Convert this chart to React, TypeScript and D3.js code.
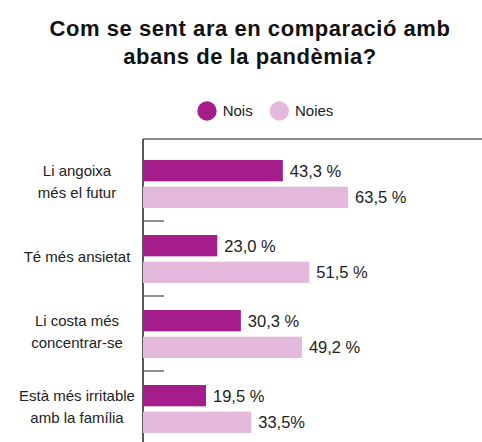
import React from "react";
import * as d3 from "d3";

const title = ["Com se sent ara en comparació amb", "abans de la pandèmia?"];
const categories = [
  ["Li angoixa", "més el futur"],
  ["Té més ansietat"],
  ["Li costa més", "concentrar-se"],
  ["Està més irritable", "amb la família"],
];
const series = ["Nois", "Noies"];
const noisValues = [43.3, 23.0, 30.3, 19.5];
const noiesValues = [63.5, 51.5, 49.2, 33.5];
const noisLabels = ["43,3 %", "23,0 %", "30,3 %", "19,5 %"];
const noiesLabels = ["63,5 %", "51,5 %", "49,2 %", "33,5%"];

const W = 482;
const H = 442;
const FONT = "'Liberation Sans', Arial, Helvetica, sans-serif";
const colors = ["#A51D8A", "#E4B9DB"];

export default function App() {
  const x0 = 143;
  const x = d3.scaleLinear().domain([0, 100]).range([x0, x0 + 323]);
  const keys = categories.map((_, i) => String(i));
  const y = d3.scaleBand().domain(keys).range([146, 446]);
  const yInner = d3.scaleBand().domain(series).range([14, 62]).paddingInner(0.2);
  const values = [noisValues, noiesValues];
  const labels = [noisLabels, noiesLabels];
  const color = d3.scaleOrdinal<string, string>().domain(series).range(colors);

  const legendX = [207, 279.3];

  return (
    <svg
      width={W}
      height={H}
      style={{ position: "absolute", left: 0, top: 0, background: "#fff" }}
      fontFamily={FONT}
    >
      {title.map((t, i) => (
        <text
          key={i}
          x={250}
          y={36 + i * 28}
          textAnchor="middle"
          fontSize={22}
          fontWeight="bold"
          letterSpacing={0.55}
          fill="#111"
        >
          {t}
        </text>
      ))}

      {series.map((s, i) => (
        <g key={s}>
          <circle cx={legendX[i]} cy={111} r={9.7} fill={color(s)} />
          <text x={legendX[i] + 15.7} y={116} fontSize={15} fill="#222">
            {s}
          </text>
        </g>
      ))}

      <line x1={x0} x2={W} y1={139} y2={139} stroke="#666" strokeWidth={1.5} />
      <line x1={x0} x2={x0} y1={139} y2={H} stroke="#222" strokeWidth={1.5} />

      {keys.slice(1).map((k) => (
        <line
          key={k}
          x1={x0}
          x2={x0 + 21}
          y1={y(k)!}
          y2={y(k)!}
          stroke="#444"
          strokeWidth={1.2}
        />
      ))}

      {keys.map((k, gi) => {
        const top = y(k)!;
        const center = top + 38;
        const lines = categories[gi];
        return (
          <g key={k}>
            {lines.map((ln, li) => (
              <text
                key={li}
                x={77}
                y={center + 3 + (li - (lines.length - 1) / 2) * 21.5}
                textAnchor="middle"
                fontSize={15}
                fill="#222"
              >
                {ln}
              </text>
            ))}
            {series.map((s, si) => {
              const by = top + yInner(s)!;
              const bh = yInner.bandwidth();
              const v = values[si][gi];
              return (
                <g key={s}>
                  <rect
                    x={x(0)}
                    y={by}
                    width={x(v) - x(0)}
                    height={bh}
                    fill={color(s)}
                  />
                  <text
                    x={x(v) + 7}
                    y={by + bh / 2 + 6}
                    fontSize={16.5}
                    fill="#222"
                  >
                    {labels[si][gi]}
                  </text>
                </g>
              );
            })}
          </g>
        );
      })}
    </svg>
  );
}
